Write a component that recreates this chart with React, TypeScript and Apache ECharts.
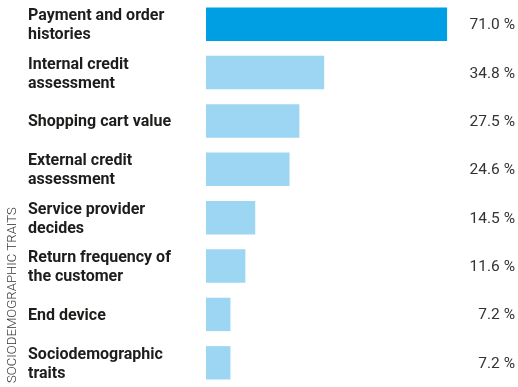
import React, { useEffect, useRef } from "react";
import * as echarts from "echarts";

const categories = [
  "Payment and order\nhistories",
  "Internal credit\nassessment",
  "Shopping cart value",
  "External credit\nassessment",
  "Service provider\ndecides",
  "Return frequency of\nthe customer",
  "End device",
  "Sociodemographic\ntraits",
];
const values = [71.0, 34.8, 27.5, 24.6, 14.5, 11.6, 7.2, 7.2];
const valueLabels = values.map((v) => v.toFixed(1) + " %");
const sideTitle = "SOCIODEMOGRAPHIC TRAITS";

const HIGHLIGHT = "#009fe3";
const LIGHT = "#9dd6f2";
const FONT = "Roboto";

export default function App() {
  const ref = useRef<HTMLDivElement>(null);
  useEffect(() => {
    if (!ref.current) return;
    const chart = echarts.init(ref.current, undefined, { renderer: "svg" });
    chart.setOption({
      animation: false,
      grid: { left: 206, right: 3, top: -3, bottom: -4, containLabel: false },
      xAxis: {
        type: "value",
        min: 0,
        max: 91,
        show: false,
      },
      yAxis: [
        {
          type: "category",
          data: categories,
          inverse: true,
          axisLine: { show: false },
          axisTick: { show: false },
          splitLine: { show: false },
          axisLabel: {
            align: "left",
            margin: 178,
            fontFamily: FONT,
            fontWeight: "bold",
            fontSize: 16,
            lineHeight: 19,
            color: "#1d1d1b",
          },
        },
        {
          type: "category",
          data: valueLabels,
          inverse: true,
          position: "right",
          axisLine: { show: false },
          axisTick: { show: false },
          splitLine: { show: false },
          axisLabel: {
            inside: true,
            margin: 0,
            fontFamily: FONT,
            fontSize: 15.5,
            color: "#333333",
          },
        },
      ],
      series: [
        {
          type: "bar",
          data: values.map((v, i) => ({
            value: v,
            itemStyle: { color: i === 0 ? HIGHLIGHT : LIGHT },
          })),
          barWidth: "69%",
        },
      ],
      graphic: [
        {
          type: "text",
          x: 11,
          y: 383,
          rotation: Math.PI / 2,
          style: {
            text: sideTitle,
            fontFamily: FONT,
            fontSize: 13.2,
            fontWeight: 300,
            fill: "#333333",
            textAlign: "left",
            textVerticalAlign: "middle",
          },
        },
      ],
    });
    return () => chart.dispose();
  }, []);
  return <div ref={ref} style={{ width: 518, height: 387, position: "fixed", left: 0, top: 0 }} />;
}
